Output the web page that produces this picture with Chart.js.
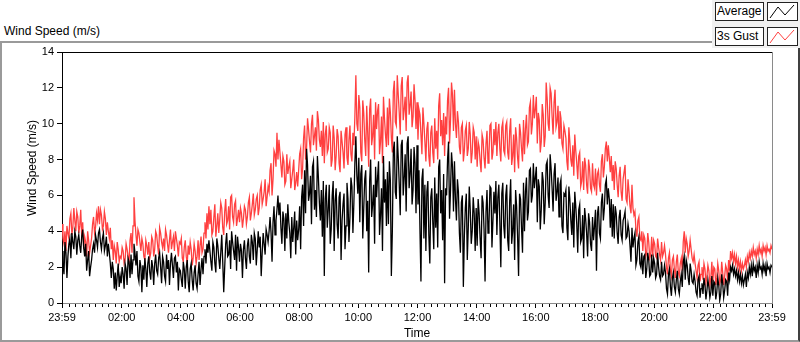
<!DOCTYPE html>
<html>
<head>
<meta charset="utf-8">
<script src="https://cdn.jsdelivr.net/npm/chart.js@4.4.1/dist/chart.umd.min.js"></script>
<style>
  html, body { margin: 0; padding: 0; background: #fff; }
  body { width: 800px; height: 342px; position: relative; overflow: hidden; font-family: "Liberation Sans", sans-serif; }
  #frame { position: absolute; left: 0; top: 41px; width: 796px; height: 297px; border: 2px solid #9a9a9a; border-right: 2px solid #404040; }
  #caption { position: absolute; left: 4px; top: 24px; font-size: 12px; color: #000; }
  #legendPanel { position: absolute; left: 712px; top: 0; width: 88px; height: 48px; background: #f0f0f0; }
  .lbl { position: absolute; left: 715px; width: 46px; height: 17px; border: 1px solid #222; background: #fff; font-size: 12px; line-height: 17px; padding-left: 1px; color: #000; }
  .sample { position: absolute; left: 767px; width: 29px; height: 17px; border: 1px solid #222; background: #fff; }
  #wrap { position: absolute; left: 0; top: 0; width: 800px; height: 342px; }
</style>
</head>
<body>
<div id="frame"></div>
<div id="caption">Wind Speed (m/s)</div>
<div id="legendPanel"></div>
<div class="lbl" style="top:2px">Average</div>
<div class="sample" style="top:2px"><svg width="29" height="17"><polyline points="2,15 10,4 17,12 26,2" fill="none" stroke="#000" stroke-width="1"/></svg></div>
<div class="lbl" style="top:27px">3s Gust</div>
<div class="sample" style="top:27px"><svg width="29" height="17"><polyline points="2,15 10,4 17,12 26,2" fill="none" stroke="#ff4040" stroke-width="1"/></svg></div>
<div id="wrap"><canvas id="chart" width="800" height="342"></canvas></div>
<script>
// one value every 2 minutes starting at 23:59, three lines = one hour
const STEP_MIN = 2;

const averageSpeed = [
  2.9, 2.2, 1.6, 3.4, 2.8, 1.4, 2.6, 3.3, 3.6, 2.5,
  3.9, 3.4, 3.0, 4.0, 3.7, 2.7, 3.5, 3.8, 3.2, 2.8,
  3.7, 4.1, 3.1, 2.6, 3.3, 1.8, 2.4, 2.9, 1.5, 2.0,
  2.4, 3.0, 3.3, 2.8, 3.8, 3.5, 3.1, 3.9, 4.1, 3.4,
  3.0, 3.6, 3.9, 2.9, 3.2, 3.7, 2.6, 3.3, 2.8, 2.2,
  1.4, 2.3, 1.9, 0.8, 1.7, 0.7, 1.5, 2.2, 0.9, 1.5,
  1.1, 2.0, 1.6, 0.8, 2.2, 1.9, 1.0, 2.5, 2.3, 1.4,
  2.7, 1.6, 2.4, 3.3, 2.8, 2.1, 2.9, 1.5, 1.2, 2.4,
  2.0, 0.6, 2.1, 1.3, 2.5, 1.9, 0.9, 2.2, 2.6, 1.7,
  1.3, 2.4, 2.0, 1.0, 2.2, 2.7, 1.8, 1.6, 2.5, 2.8,
  2.0, 1.1, 2.6, 2.3, 1.5, 1.2, 2.7, 1.9, 2.4, 1.0,
  2.2, 2.8, 2.1, 1.4, 2.5, 2.6, 1.7, 2.3, 0.7, 1.9,
  1.8, 1.3, 0.9, 2.3, 1.9, 0.8, 2.0, 2.4, 1.2, 0.6,
  1.9, 2.2, 1.3, 0.7, 1.7, 2.1, 1.1, 0.8, 1.6, 2.3,
  1.0, 1.9, 2.5, 1.6, 2.6, 3.0, 2.2, 3.3, 2.8, 3.5,
  2.9, 2.3, 1.8, 3.4, 3.1, 2.2, 1.7, 3.6, 3.2, 2.5,
  1.9, 2.8, 3.8, 2.3, 0.6, 2.0, 3.3, 3.9, 2.6, 2.7,
  3.5, 1.9, 4.0, 3.4, 2.9, 2.4, 3.8, 1.8, 3.7, 3.1,
  2.3, 3.3, 2.9, 1.4, 3.0, 3.5, 2.5, 1.9, 3.2, 3.6,
  2.6, 2.2, 3.8, 3.4, 2.4, 3.9, 3.6, 2.1, 3.0, 4.0,
  3.1, 3.7, 1.5, 2.8, 3.9, 3.3, 2.7, 4.1, 3.8, 3.4,
  4.0, 4.8, 3.9, 2.3, 4.5, 5.4, 3.8, 4.6, 5.2, 6.0,
  4.9, 5.6, 4.2, 3.3, 5.1, 4.7, 2.9, 5.0, 3.6, 5.5,
  4.5, 3.9, 2.5, 4.8, 3.4, 4.2, 5.1, 2.7, 4.6, 3.5,
  4.1, 5.4, 3.0, 5.9, 6.6, 4.3, 7.4, 5.0, 8.6, 7.7,
  5.7, 6.1, 7.1, 4.4, 7.6, 7.9, 5.2, 6.3, 4.8, 8.2,
  7.0, 5.6, 4.6, 6.3, 3.7, 6.8, 1.5, 5.8, 6.6, 4.2,
  5.2, 6.6, 3.3, 4.1, 6.0, 6.8, 2.9, 5.7, 6.4, 4.4,
  3.6, 5.9, 6.2, 2.4, 4.6, 5.5, 6.1, 3.0, 4.3, 6.7,
  5.8, 3.4, 4.8, 7.0, 6.5, 3.9, 5.6, 7.8, 9.3, 7.1,
  6.1, 8.1, 4.5, 7.2, 7.7, 3.6, 5.3, 6.9, 7.4, 4.0,
  5.7, 1.7, 6.8, 8.0, 4.8, 5.5, 6.6, 3.3, 7.6, 5.9,
  7.0, 7.9, 3.8, 4.9, 6.4, 2.9, 8.2, 5.6, 6.9, 4.3,
  7.3, 4.4, 7.9, 6.8, 1.5, 4.0, 8.5, 9.0, 6.2, 5.8,
  9.3, 8.1, 6.6, 4.9, 8.8, 9.1, 6.0, 7.0, 8.3, 5.1,
  8.9, 9.3, 6.4, 7.2, 8.6, 5.5, 6.3, 8.7, 7.8, 5.0,
  8.8, 5.5, 7.4, 4.1, 1.2, 6.9, 7.5, 3.6, 6.6, 2.9,
  6.2, 6.8, 3.8, 2.2, 5.9, 6.4, 4.5, 3.0, 7.0, 4.2,
  6.1, 3.1, 7.6, 8.0, 5.0, 6.3, 3.5, 7.2, 1.1, 6.4,
  6.0, 8.0, 9.0, 4.7, 6.3, 8.4, 7.6, 5.1, 7.9, 5.8,
  4.6, 6.9, 6.2, 3.9, 2.8, 5.6, 6.0, 0.9, 3.7, 5.3,
  6.1, 2.4, 4.2, 6.5, 5.2, 3.3, 4.0, 5.9, 5.0, 2.9,
  5.3, 3.2, 5.8, 5.0, 3.6, 2.5, 6.0, 5.6, 4.1, 1.2,
  5.1, 6.3, 3.9, 4.4, 6.5, 6.4, 3.1, 4.6, 6.2, 5.0,
  6.8, 3.8, 5.9, 6.6, 4.5, 2.0, 6.1, 6.7, 4.3, 3.6,
  6.0, 6.6, 3.5, 2.9, 5.7, 6.9, 3.3, 4.0, 5.5, 2.4,
  6.3, 5.4, 3.7, 1.5, 6.1, 5.8, 4.2, 2.8, 6.7, 4.0,
  6.2, 7.0, 4.6, 5.1, 7.4, 7.5, 5.6, 6.0, 7.8, 6.4,
  7.0, 7.6, 4.5, 6.9, 6.5, 4.1, 5.2, 7.3, 6.8, 4.4,
  5.6, 7.7, 7.9, 6.0, 5.3, 8.3, 7.5, 6.4, 5.1, 7.2,
  7.8, 5.7, 6.2, 7.0, 4.8, 6.6, 6.9, 4.3, 3.9, 6.1,
  6.0, 6.3, 4.2, 3.5, 6.5, 5.8, 4.6, 3.8, 5.6, 3.1,
  6.2, 5.4, 4.4, 2.8, 5.2, 5.5, 3.4, 3.6, 4.9, 2.5,
  5.3, 4.7, 3.9, 2.6, 5.0, 4.5, 3.3, 2.9, 4.8, 3.5,
  4.3, 5.2, 1.8, 5.0, 5.4, 3.9, 3.6, 5.6, 6.1, 4.6,
  5.3, 6.6, 6.9, 5.5, 6.4, 5.8, 4.2, 5.8, 3.7, 5.5,
  3.6, 5.4, 5.0, 3.9, 3.3, 4.8, 5.2, 3.8, 3.5, 4.6,
  4.8, 5.1, 3.6, 3.7, 4.4, 4.0, 3.2, 2.3, 4.2, 3.1,
  3.6, 3.9, 2.1, 2.4, 3.4, 3.7, 2.2, 2.0, 2.8, 1.6,
  2.6, 2.7, 1.4, 1.9, 2.8, 2.4, 1.5, 1.6, 2.7, 1.7,
  2.5, 2.2, 1.4, 1.6, 2.8, 2.0, 1.5, 1.3, 2.3, 1.5,
  1.6, 2.1, 1.7, 0.8, 0.5, 1.6, 1.9, 0.9, 0.4, 1.4,
  1.7, 0.9, 0.6, 1.3, 1.8, 0.8, 0.5, 1.2, 1.6, 0.9,
  2.3, 2.6, 1.3, 2.4, 2.1, 1.4, 1.0, 2.2, 1.8, 1.2,
  1.1, 1.6, 1.2, 0.6, 0.4, 1.3, 1.5, 0.3, 0.8, 1.1,
  0.5, 1.4, 1.0, 0.2, 0.7, 1.3, 0.9, 0.3, 0.6, 1.5,
  0.4, 1.2, 1.1, 0.2, 0.6, 1.4, 1.0, 0.15, 0.5, 1.6,
  1.1, 0.3, 0.7, 1.3, 1.2, 0.4, 1.7, 1.3, 2.0, 1.8,
  2.1, 1.6, 1.9, 1.5, 1.8, 1.3, 1.7, 1.2, 1.6, 1.1,
  1.5, 1.0, 1.3, 1.6, 0.9, 1.7, 1.4, 2.0, 1.6, 2.1,
  1.5, 2.2, 1.8, 2.0, 1.4, 2.1, 1.7, 2.3, 1.9, 2.0,
  1.6, 2.2, 1.8, 2.1, 1.5, 2.2, 1.9, 2.0, 1.7, 2.1,
  2.0
];

const gustSpeed = [
  4.4, 3.6, 3.3, 4.0, 2.9, 4.3, 3.9, 3.6, 4.7, 5.0,
  3.8, 4.2, 5.3, 4.6, 4.0, 5.1, 4.8, 3.9, 4.3, 5.2,
  3.7, 4.5, 3.0, 3.7, 3.4, 2.6, 4.0, 3.5, 2.8, 3.2,
  3.6, 4.4, 4.8, 3.9, 4.2, 5.0, 4.6, 5.4, 4.4, 5.2,
  4.9, 4.1, 4.3, 5.1, 4.7, 3.8, 4.5, 4.0, 3.6, 4.2,
  3.0, 3.5, 2.4, 3.2, 2.9, 2.2, 3.4, 3.0, 2.3, 2.6,
  2.5, 3.1, 2.9, 2.2, 2.4, 3.3, 3.0, 2.6, 2.3, 3.5,
  3.9, 2.8, 4.3, 5.9, 4.6, 3.8, 3.2, 4.1, 3.9, 3.4,
  2.9, 3.6, 3.3, 2.6, 2.4, 3.5, 3.2, 2.7, 3.4, 2.5,
  2.8, 3.7, 3.5, 2.6, 3.0, 4.0, 3.8, 3.2, 2.7, 4.2,
  3.9, 3.4, 3.1, 3.6, 2.9, 4.1, 3.8, 3.3, 2.8, 3.5,
  4.1, 3.0, 3.4, 3.7, 2.9, 4.0, 3.6, 3.2, 2.6, 3.4,
  3.3, 3.6, 2.5, 2.3, 3.1, 3.5, 2.6, 2.2, 3.2, 2.7,
  3.4, 3.0, 2.1, 2.5, 3.3, 2.9, 2.2, 2.6, 3.5, 2.4,
  3.2, 3.7, 2.8, 3.0, 3.9, 4.5, 3.6, 5.0, 4.1, 5.4,
  4.4, 5.2, 3.8, 4.0, 4.8, 5.5, 3.7, 4.3, 5.0, 3.9,
  4.7, 5.6, 5.3, 4.2, 3.8, 5.1, 5.8, 4.4, 4.6, 5.4,
  4.1, 5.9, 6.0, 4.8, 4.5, 5.5, 5.7, 4.3, 4.7, 5.2,
  4.5, 5.3, 5.0, 4.2, 4.7, 5.4, 5.2, 4.4, 4.8, 5.6,
  5.9, 4.6, 5.0, 5.5, 6.1, 4.9, 5.2, 5.8, 6.0, 4.9,
  5.3, 6.3, 6.6, 5.5, 5.8, 6.2, 6.9, 5.4, 5.9, 6.5,
  6.2, 7.4, 7.8, 6.0, 6.9, 8.5, 8.3, 7.6, 9.5, 8.0,
  9.1, 8.4, 7.7, 7.0, 8.2, 7.9, 6.6, 6.8, 8.3, 7.2,
  7.6, 7.9, 6.4, 6.9, 7.4, 8.0, 6.3, 6.7, 7.3, 6.5,
  7.4, 8.3, 8.6, 6.9, 7.5, 9.2, 9.9, 8.0, 8.6, 10.3,
  9.7, 9.0, 8.4, 10.0, 10.5, 8.8, 9.3, 9.8, 8.5, 10.7,
  10.2, 9.1, 8.7, 9.6, 8.2, 10.1, 7.8, 9.4, 9.9, 8.4,
  8.6, 9.8, 9.5, 7.6, 8.0, 9.9, 9.2, 7.4, 8.2, 9.7,
  9.3, 7.8, 7.3, 9.6, 9.0, 8.4, 7.5, 9.4, 9.8, 8.1,
  7.7, 9.1, 9.9, 8.3, 7.9, 9.5, 8.8, 10.4, 12.7, 10.0,
  9.6, 11.6, 10.9, 8.4, 7.9, 11.3, 10.6, 9.1, 8.2, 11.0,
  9.5, 7.6, 10.8, 11.4, 8.8, 9.3, 10.5, 8.0, 11.2, 9.7,
  10.7, 11.1, 8.3, 9.0, 10.4, 7.8, 11.5, 10.3, 9.4, 8.7,
  10.9, 8.8, 11.4, 10.6, 9.2, 8.4, 11.8, 12.4, 10.1, 9.9,
  12.7, 11.6, 10.6, 9.4, 12.1, 12.6, 10.2, 10.8, 11.5, 9.6,
  12.3, 12.7, 10.5, 11.0, 11.8, 9.8, 10.4, 12.2, 11.3, 9.7,
  11.2, 9.1, 10.8, 10.5, 9.4, 8.3, 10.9, 10.0, 9.0, 7.9,
  9.7, 10.1, 8.2, 7.6, 9.5, 9.9, 8.4, 7.8, 10.3, 8.6,
  9.6, 8.0, 11.0, 11.7, 9.3, 10.2, 8.8, 10.6, 8.2, 10.4,
  9.4, 11.3, 12.0, 8.9, 10.2, 12.3, 11.6, 9.6, 11.9, 10.0,
  9.2, 10.7, 10.1, 8.7, 8.3, 9.8, 10.0, 7.9, 8.5, 9.6,
  9.9, 8.2, 8.6, 10.1, 9.4, 7.8, 8.4, 9.8, 9.5, 8.0,
  9.3, 7.6, 9.0, 8.7, 7.9, 7.3, 9.4, 9.1, 8.1, 7.5,
  8.9, 9.6, 7.8, 8.3, 9.9, 10.0, 8.0, 8.4, 9.7, 8.8,
  10.1, 8.2, 9.5, 10.0, 8.6, 7.9, 9.8, 10.1, 8.5, 8.3,
  9.9, 10.1, 8.4, 8.0, 9.6, 10.3, 7.7, 8.2, 9.4, 7.3,
  9.8, 9.2, 8.1, 7.5, 10.0, 9.5, 8.6, 7.9, 10.2, 8.3,
  9.7, 10.5, 8.8, 9.0, 10.9, 11.2, 9.4, 10.0, 11.6, 10.3,
  10.8, 11.5, 8.9, 10.6, 10.2, 8.4, 9.0, 11.1, 10.5, 8.7,
  9.3, 12.3, 11.4, 10.0, 9.6, 12.0, 11.7, 10.4, 9.4, 11.2,
  11.9, 9.8, 10.1, 11.0, 9.2, 10.7, 10.3, 8.9, 8.6, 9.9,
  9.6, 9.2, 7.9, 7.4, 9.8, 9.0, 8.0, 7.6, 8.8, 7.1,
  9.4, 8.5, 7.8, 6.9, 8.2, 8.4, 6.5, 6.8, 7.9, 6.3,
  8.1, 7.7, 6.6, 6.1, 8.0, 7.5, 6.4, 6.2, 7.8, 6.6,
  6.4, 7.5, 6.0, 7.2, 7.4, 6.6, 6.2, 7.9, 8.3, 7.0,
  7.6, 8.6, 9.0, 7.9, 8.8, 8.1, 7.3, 8.2, 6.8, 7.7,
  6.3, 7.9, 7.5, 6.6, 5.9, 7.1, 7.6, 6.2, 5.7, 6.9,
  7.3, 7.7, 5.8, 5.6, 6.9, 6.2, 5.4, 5.0, 6.6, 5.3,
  4.9, 5.1, 4.1, 3.7, 4.6, 4.8, 3.6, 3.5, 4.0, 2.9,
  3.8, 3.6, 2.6, 2.8, 3.9, 3.4, 2.5, 2.7, 3.7, 2.6,
  3.5, 3.3, 2.6, 2.5, 3.6, 3.1, 2.7, 2.4, 3.4, 2.6,
  2.8, 3.2, 2.7, 2.0, 1.6, 2.5, 2.8, 1.8, 1.5, 2.4,
  2.6, 1.9, 1.4, 2.3, 2.7, 1.7, 1.5, 2.2, 2.5, 1.8,
  3.4, 4.0, 2.8, 3.6, 3.3, 2.6, 2.9, 3.5, 3.0, 2.5,
  2.3, 2.7, 2.2, 1.8, 1.4, 2.1, 2.3, 1.2, 1.6, 2.0,
  1.3, 2.2, 1.9, 1.1, 1.5, 2.1, 1.8, 1.0, 1.4, 2.3,
  1.2, 2.0, 1.9, 1.0, 1.4, 2.2, 1.8, 1.1, 1.3, 2.3,
  1.7, 1.0, 1.5, 2.1, 1.9, 1.2, 2.4, 1.8, 2.9, 2.5,
  2.8, 2.3, 2.7, 2.2, 2.6, 2.0, 2.4, 1.9, 2.3, 1.8,
  2.2, 1.9, 2.1, 2.4, 2.0, 2.6, 2.3, 2.8, 2.5, 2.9,
  2.6, 3.1, 2.7, 2.9, 2.5, 3.0, 2.7, 3.2, 2.8, 3.0,
  2.6, 3.2, 2.9, 3.1, 2.7, 3.2, 2.9, 3.0, 2.8, 3.2,
  3.0
];

// x ticks in minutes after 23:59
const tickMinutes = [0, 121, 241, 361, 481, 601, 721, 841, 961, 1081, 1201, 1321, 1440];
const tickLabels = ['23:59', '02:00', '04:00', '06:00', '08:00', '10:00', '12:00',
                    '14:00', '16:00', '18:00', '20:00', '22:00', '23:59'];

const toPoints = (arr) => arr.map((v, i) => ({ x: i * STEP_MIN, y: v }));

const FONT = { family: 'Liberation Sans', size: 11 };

// top/right frame lines, minor x ticks and the y title
const framePlugin = {
  id: 'frame',
  afterDraw(chart) {
    const { ctx, chartArea: a, scales } = chart;
    ctx.save();
    ctx.lineWidth = 1;
    ctx.strokeStyle = '#000';
    ctx.beginPath();
    ctx.moveTo(a.left, a.top + 0.5);
    ctx.lineTo(a.right, a.top + 0.5);
    ctx.stroke();
    ctx.strokeStyle = '#8a8a8a';
    ctx.beginPath();
    ctx.moveTo(a.right + 0.5, a.top);
    ctx.lineTo(a.right + 0.5, a.bottom + 1);
    ctx.stroke();
    ctx.strokeStyle = '#000';
    ctx.beginPath();
    for (let k = 0; k < tickMinutes.length - 1; k++) {
      const m0 = tickMinutes[k], m1 = tickMinutes[k + 1];
      for (let j = 1; j < 9; j++) {
        const px = Math.round(scales.x.getPixelForValue(m0 + (m1 - m0) * j / 9)) + 0.5;
        ctx.moveTo(px, a.bottom + 1);
        ctx.lineTo(px, a.bottom + 4);
      }
    }
    ctx.stroke();
    ctx.translate(33, 168);
    ctx.rotate(-Math.PI / 2);
    ctx.fillStyle = '#000';
    ctx.font = '12px "Liberation Sans"';
    ctx.textAlign = 'center';
    ctx.textBaseline = 'middle';
    ctx.fillText('Wind Speed (m/s)', 0, 0);
    ctx.restore();
  }
};

new Chart(document.getElementById('chart'), {
  type: 'line',
  data: {
    datasets: [
      {
        label: 'Average',
        data: toPoints(averageSpeed),
        borderColor: '#000',
        borderWidth: 1.3,
        pointRadius: 0,
        tension: 0,
      },
      {
        label: '3s Gust',
        data: toPoints(gustSpeed),
        borderColor: '#ff4040',
        borderWidth: 1.3,
        pointRadius: 0,
        tension: 0,
      }
    ]
  },
  options: {
    responsive: false,
    animation: false,
    events: [],
    layout: { padding: { top: 52, right: 28, bottom: 1, left: 0 } },
    scales: {
      x: {
        type: 'linear',
        min: 0,
        max: 1440,
        afterBuildTicks: (scale) => { scale.ticks = tickMinutes.map(v => ({ value: v })); },
        afterFit: (scale) => { scale.height = 38; },
        ticks: {
          autoSkip: false,
          maxRotation: 0,
          padding: 3,
          color: '#000',
          font: FONT,
          callback: (v) => tickLabels[tickMinutes.indexOf(v)],
        },
        grid: { drawOnChartArea: false, tickLength: 5, color: '#000' },
        border: { color: '#8a8a8a' },
        title: { display: true, text: 'Time', color: '#000', font: { family: 'Liberation Sans', size: 12 }, padding: { top: 0, bottom: 0 } },
      },
      y: {
        min: 0,
        max: 14,
        afterFit: (scale) => { scale.width = 62; },
        ticks: { stepSize: 2, padding: 3, color: '#000', font: FONT },
        grid: { drawOnChartArea: false, tickLength: 5, color: '#000' },
        border: { color: '#000' },
      }
    },
    plugins: {
      legend: { display: false },
      tooltip: { enabled: false },
    }
  },
  plugins: [framePlugin]
});
</script>
</body>
</html>
